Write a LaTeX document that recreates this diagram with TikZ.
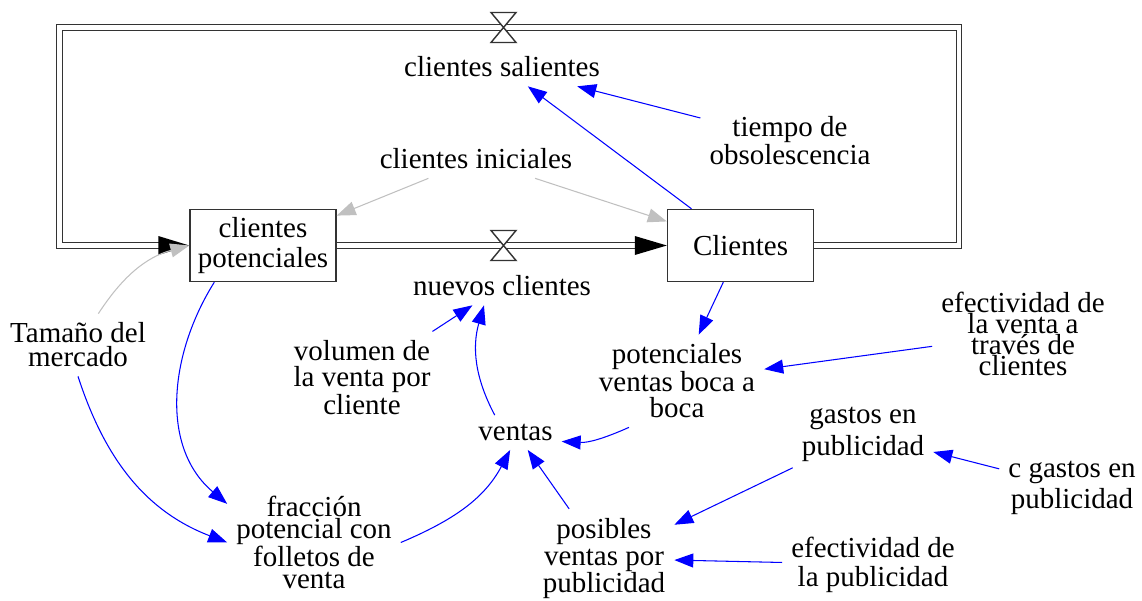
\documentclass[tikz,border=0pt]{standalone}
\usepackage{fontspec}
\setmainfont{Liberation Serif}
\usetikzlibrary{arrows.meta}
\definecolor{linkgrey}{RGB}{192,192,192}

\begin{document}
\begin{tikzpicture}[x=0.02cm, y=-0.02cm,
  every node/.style={font=\fontsize{16.5}{14}\selectfont},
  var/.style={align=center, inner sep=5pt},
  sp/.style={font=\fontsize{16.5}{#1}\selectfont},
  stock/.style={draw=black!80, line width=0.8pt, minimum width=2.92cm, minimum height=1.44cm, align=center},
  pipe/.style={draw=black!80, line width=0.8pt, double=white, double distance=2.3pt},
  valve/.style={draw=black!80, line width=0.8pt, fill=white},
  link/.style={draw=blue, line width=0.6pt, -{Triangle[length=0.38cm,width=0.28cm]}},
  glink/.style={link, draw=linkgrey}]

\useasboundingbox (0,0) rectangle (1142,601);

\node[stock, sp=17.6] (cp) at (263,245.5) {clientes\\potenciales};
\node[stock] (ck) at (740.5,245.5) {Clientes};

\coordinate (vout) at (503.5,27.5);
\coordinate (vin) at (503.5,245.5);
\node[var] (cs) at (502,67) {clientes salientes};
\node[var] (nc) at (502,286) {nuevos clientes};

\node[var, sp=13.7] (tob) at (790,141) {tiempo de\\obsolescencia};
\node[var] (ci) at (476,159) {clientes iniciales};
\node[var, sp=13.7] (tm) at (78,345) {Tamaño del\\mercado};
\node[var, sp=14.5] (vol) at (362,377.5) {volumen de\\la venta por\\cliente};
\node[var] (ve) at (515.5,432.5) {ventas};
\node[var, sp=14.8] (pvb) at (677,381) {potenciales\\ventas boca a\\boca};
\node[var, sp=12] (evc) at (1023,334) {efectividad de\\la venta a\\través de\\clientes};
\node[var, sp=18.2] (gp) at (863,434) {gastos en\\publicidad};
\node[var, sp=17.6] (cgp) at (1072,487.5) {c gastos en\\publicidad};
\node[var, sp=12.3] (fr) at (314,542.5) {fracción\\potencial con\\folletos de\\venta};
\node[var, sp=15.6] (pvp) at (604,558.5) {posibles\\ventas por\\publicidad};
\node[var, sp=16.5] (ep) at (873,564.5) {efectividad de\\la publicidad};

\coordinate (r1) at (959,245.5);
\coordinate (r2) at (959,27.5);
\coordinate (l2) at (59.5,27.5);
\coordinate (l1) at (59.5,245.5);
\draw[pipe] (ck.east) -- (r1) -- (r2) -- (l2) -- (l1) -- ([xshift=-0.6cm]cp.west);
\fill[black] (cp.west) -- ++(-31,-9.5) -- ++(0,19) -- cycle;
\draw[pipe] (cp.east) -- ([xshift=-0.6cm]ck.west);
\fill[black] (ck.west) -- ++(-32,-9.5) -- ++(0,19) -- cycle;

\draw[valve] (vout) -- ++(-12.5,-15) -- ++(25,0) -- cycle;
\draw[valve] (vout) -- ++(-12.5,15) -- ++(25,0) -- cycle;
\draw[valve] (vin) -- ++(-12.5,-15) -- ++(25,0) -- cycle;
\draw[valve] (vin) -- ++(-12.5,15) -- ++(25,0) -- cycle;

\draw[link] (ck) -- (cs);
\draw[link] (tob) -- (cs);
\draw[glink] (ci) -- (cp);
\draw[glink] (ci) -- (ck);
\draw[glink] (tm) to[out=57, in=195] (cp.west);
\draw[link] (tm.south) to[out=-72, in=159] (fr.west);
\draw[link] (cp.-143) to[out=-122, in=140] (fr.156);
\draw[link] (fr.east) to[out=23, in=-118] (ve.-107);
\draw[link] (ve.140) to[out=118, in=-106] (nc.-133);
\draw[link] (vol) -- (nc);
\draw[link] (ck) -- (pvb);
\draw[link] (pvb.-136) to[out=-156, in=-3] (ve.-11);
\draw[link] (evc) -- (pvb);
\draw[link] (pvp) -- (ve);
\draw[link] (gp) -- (pvp);
\draw[link] (cgp) -- (gp);
\draw[link] (ep) -- (pvp);
\end{tikzpicture}
\end{document}
